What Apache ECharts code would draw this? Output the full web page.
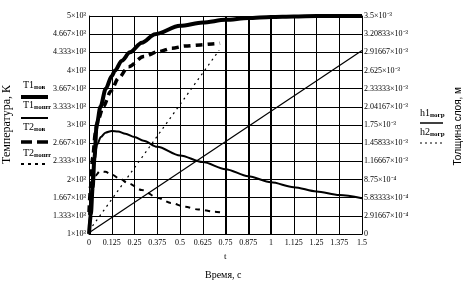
<!DOCTYPE html>
<html>
<head>
    <meta charset="utf-8">
    <title>Температура и толщина слоя</title>
    <script src="https://cdn.jsdelivr.net/npm/echarts@6/dist/echarts.min.js"></script>
    <style>
        html, body { margin: 0; padding: 0; background: #ffffff; }
        #chart { width: 469px; height: 286px; }
    </style>
</head>
<body>
<div id="chart"></div>
<script>
    // время, с
    var xTicks = ['0', '0.125', '0.25', '0.375', '0.5', '0.625', '0.75', '0.875', '1', '1.125', '1.25', '1.375', '1.5'];
    var leftTicks = ['1×10³', '1.333×10³', '1.667×10³', '2×10³', '2.333×10³', '2.667×10³', '3×10³',
        '3.333×10³', '3.667×10³', '4×10³', '4.333×10³', '4.667×10³', '5×10³'];
    var rightTicks = ['0', '2.91667×10⁻⁴', '5.83333×10⁻⁴', '8.75×10⁻⁴', '1.16667×10⁻³', '1.45833×10⁻³', '1.75×10⁻³',
        '2.04167×10⁻³', '2.33333×10⁻³', '2.625×10⁻³', '2.91667×10⁻³', '3.20833×10⁻³', '3.5×10⁻³'];

    // T1 пов
    var tT1pov = [0, 0.01, 0.02, 0.03, 0.042, 0.063, 0.092, 0.125, 0.143, 0.18, 0.225, 0.29, 0.363, 0.5, 0.625, 0.75, 0.875, 1.0, 1.125, 1.25, 1.5];
    var vT1pov = [1000, 1350, 1850, 2400, 3000, 3333, 3667, 3900, 4000, 4180, 4333, 4510, 4667, 4820, 4880, 4930, 4963, 4982, 4992, 5000, 5000];
    // T1 пошт
    var tT1posht = [0, 0.01, 0.02, 0.03, 0.045, 0.065, 0.09, 0.125, 0.16, 0.2, 0.25, 0.3, 0.375, 0.5, 0.625, 0.75, 0.875, 1.0, 1.125, 1.25, 1.375, 1.5];
    var vT1posht = [1100, 1700, 2150, 2420, 2640, 2780, 2860, 2890, 2880, 2840, 2780, 2710, 2600, 2440, 2320, 2190, 2060, 1950, 1860, 1780, 1715, 1655];
    // T2 пов
    var tT2pov = [0, 0.01, 0.02, 0.035, 0.05, 0.079, 0.12, 0.162, 0.217, 0.3, 0.382, 0.456, 0.529, 0.612, 0.676, 0.72];
    var vT2pov = [1400, 1900, 2400, 2850, 3100, 3340, 3620, 3860, 4070, 4255, 4347, 4408, 4451, 4469, 4487, 4500];
    // T2 пошт
    var tT2posht = [0, 0.01, 0.02, 0.035, 0.06, 0.09, 0.125, 0.17, 0.216, 0.29, 0.38, 0.45, 0.527, 0.6, 0.692, 0.72];
    var vT2posht = [1350, 1650, 1900, 2070, 2150, 2140, 2090, 2010, 1930, 1807, 1660, 1570, 1500, 1450, 1410, 1400];
    // h1 погр, h2 погр (м)
    var tH1 = [0, 1.5];
    var vH1 = [0.00002, 0.002945];
    var tH2 = [0, 0.715];
    var vH2 = [0.00005, 0.00295];

    var markTimes = [0.75, 0.875, 1];

    function pairs(t, v) {
        return t.map(function (x, i) { return [x, v[i]]; });
    }

    var chart = echarts.init(document.getElementById('chart'), null, {renderer: 'canvas'});
    var tickFont = {color: '#000', fontFamily: 'Liberation Serif', fontSize: 8};
    var subRich = {
        a: {fontFamily: 'Liberation Serif', fontSize: 10, color: '#000'},
        b: {fontFamily: 'Liberation Serif', fontSize: 7, fontWeight: 'bold', color: '#000', padding: [5, 0, 0, 0]}
    };

    function legendText(x, y, main, sub) {
        return {
            type: 'text', left: x, top: y,
            style: {text: '{a|' + main + '}{b|' + sub + '}', rich: subRich}
        };
    }
    function legendLine(x1, x2, y, w, dash) {
        return {
            type: 'line', shape: {x1: x1, y1: y, x2: x2, y2: y},
            style: {stroke: '#000', lineWidth: w, lineDash: dash || null}
        };
    }

    var option = {
        animation: false,
        backgroundColor: '#fff',
        grid: {left: 89, right: 107, top: 16, bottom: 52},
        xAxis: {
            type: 'value', min: 0, max: 1.5, interval: 0.125,
            axisLine: {lineStyle: {color: '#000', width: 1}},
            axisTick: {show: false},
            splitLine: {lineStyle: {color: '#000', width: 1}},
            axisLabel: Object.assign({margin: 5, formatter: function (v) {
                return xTicks[Math.round(v / 0.125)];
            }}, tickFont)
        },
        yAxis: [{
            type: 'value', min: 1000, max: 5000, interval: 4000 / 12,
            axisLine: {show: true, lineStyle: {color: '#000', width: 1}},
            axisTick: {show: false},
            splitLine: {lineStyle: {color: '#000', width: 1}},
            axisLabel: Object.assign({margin: 3, formatter: function (v) {
                return leftTicks[Math.round((v - 1000) / (4000 / 12))];
            }}, tickFont)
        }, {
            type: 'value', min: 0, max: 0.0035, interval: 0.0035 / 12, position: 'right',
            axisLine: {show: true, lineStyle: {color: '#000', width: 1}},
            axisTick: {show: false},
            splitLine: {show: false},
            axisLabel: Object.assign({margin: 2, formatter: function (v) {
                return rightTicks[Math.round(v / (0.0035 / 12))];
            }}, tickFont)
        }],
        series: [{
            name: 'T1пов', type: 'line', yAxisIndex: 0, showSymbol: false,
            smooth: 0.3, smoothMonotone: 'x',
            lineStyle: {color: '#000', width: 4},
            data: pairs(tT1pov, vT1pov),
            markLine: {
                silent: true, symbol: 'none', label: {show: false},
                lineStyle: {color: '#000', width: 2, type: 'solid'},
                data: markTimes.map(function (x) { return {xAxis: x}; })
            }
        }, {
            name: 'T1пошт', type: 'line', yAxisIndex: 0, showSymbol: false,
            smooth: 0.3, smoothMonotone: 'x',
            lineStyle: {color: '#000', width: 2},
            data: pairs(tT1posht, vT1posht)
        }, {
            name: 'T2пов', type: 'line', yAxisIndex: 0, showSymbol: false,
            smooth: 0.3, smoothMonotone: 'x',
            lineStyle: {color: '#000', width: 3.5, type: [7, 5]},
            data: pairs(tT2pov, vT2pov)
        }, {
            name: 'T2пошт', type: 'line', yAxisIndex: 0, showSymbol: false,
            smooth: 0.3, smoothMonotone: 'x',
            lineStyle: {color: '#000', width: 2, type: [5, 5]},
            data: pairs(tT2posht, vT2posht)
        }, {
            name: 'h1погр', type: 'line', yAxisIndex: 1, showSymbol: false,
            lineStyle: {color: '#000', width: 1.2},
            data: pairs(tH1, vH1)
        }, {
            name: 'h2погр', type: 'line', yAxisIndex: 1, showSymbol: false,
            lineStyle: {color: '#000', width: 1.2, type: [2, 4]},
            data: pairs(tH2, vH2)
        }],
        graphic: [
            {
                type: 'text', left: 1, top: 85, rotation: Math.PI / 2,
                style: {text: 'Температура, К', fontFamily: 'Liberation Serif', fontSize: 12, fill: '#000'}
            },
            legendText(23, 80, 'T1', 'пов'), legendLine(21, 48, 97, 4),
            legendText(23, 100, 'T1', 'пошт'), legendLine(21, 48, 118, 2),
            legendText(23, 122, 'T2', 'пов'), legendLine(21, 48, 142, 3.5, [11, 5]),
            legendText(23, 148, 'T2', 'пошт'), legendLine(21, 48, 164, 2, [3, 4]),
            legendText(420, 108, 'h1', 'погр'), legendLine(420, 443, 123, 1.5),
            legendText(420, 127, 'h2', 'погр'), legendLine(420, 443, 143, 1, [2, 3]),
            {
                type: 'text', left: 453, top: 87, rotation: Math.PI / 2,
                style: {text: 'Толщина слоя, м', fontFamily: 'Liberation Sans', fontSize: 10, fill: '#000'}
            },
            {
                type: 'text', left: 224, top: 252,
                style: {text: 't', fontFamily: 'Liberation Serif', fontSize: 9, fill: '#000'}
            },
            {
                type: 'text', left: 205, top: 270,
                style: {text: 'Время, с', fontFamily: 'Liberation Serif', fontSize: 10, fill: '#000'}
            }
        ]
    };
    chart.setOption(option);
</script>
</body>
</html>
